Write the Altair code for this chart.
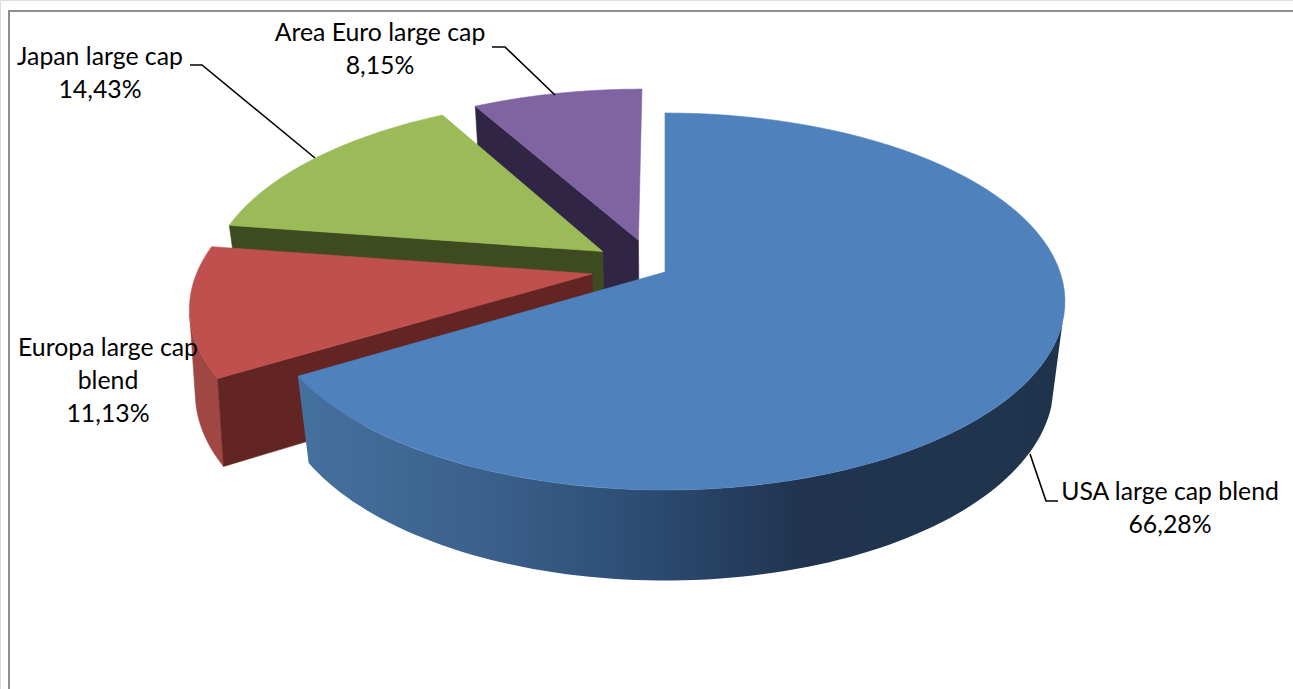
import math
import altair as alt
import pandas as pd

# Portfolio split, clockwise from twelve o'clock
NAMES = ["USA large cap blend", "Europa large cap blend", "Japan large cap", "Area Euro large cap"]
SHARES = [66.28, 11.13, 14.43, 8.15]
TOP_COLORS = ["#4f81bd", "#c0504d", "#9bbb59", "#8064a2"]
WALL_COLORS = [None, "#622523", "#3e4b20", "#302544"]

WIDTH, HEIGHT = 1293, 689

# Perspective camera for the tilted disc
CX, CY = 665.0, 272.0
A, B, C = 395.0, 183.9, 85.0
K, M = 0.1565, 0.028

# Slice pull-out: radial distance plus a small per-slice correction in the disc plane
EXPLODE = 0.19
NUDGE_U = [0.0, 0.002, -0.004, -0.021]
NUDGE_V = [0.0, 0.027, 0.005, -0.006]

# Depth settings for the pulled-out left slice, which sits nearer the frame edge
RED_C, RED_M = 83.0, 0.012

# Angles where the outer walls turn away from the viewer
BLUE_WALL_START = 105
RED_WALL_END = 258


def project(u, v, z=0.0, c=C, m=M):
    w = 1 + K * v + m * z
    return CX + A * u / w, CY + (-B * v + c * z) / w


def rim(theta0, theta1, ou, ov, z=0.0, c=C, m=M, steps=90):
    pts = []
    for i in range(steps + 1):
        t = math.radians(theta0 + (theta1 - theta0) * i / steps)
        pts.append(project(math.sin(t) + ou, math.cos(t) + ov, z, c, m))
    return pts


def polygon(points, fill, stroke=True):
    rows = [{"px": x, "py": y, "i": i} for i, (x, y) in enumerate(points + points[:1])]
    mark = {"fill": fill, "strokeWidth": 0.6}
    mark["stroke"] = fill if stroke else "transparent"
    return alt.Chart(pd.DataFrame(rows)).mark_line(**mark).encode(
        x=alt.X("px:Q", scale=X_SCALE, axis=None),
        y=alt.Y("py:Q", scale=Y_SCALE, axis=None),
        order="i:Q",
    )


def path(points, color, width):
    rows = [{"px": x, "py": y, "i": i} for i, (x, y) in enumerate(points)]
    return alt.Chart(pd.DataFrame(rows)).mark_line(color=color, strokeWidth=width).encode(
        x=alt.X("px:Q", scale=X_SCALE, axis=None),
        y=alt.Y("py:Q", scale=Y_SCALE, axis=None),
        order="i:Q",
    )


X_SCALE = alt.Scale(domain=[0, WIDTH], range=[0, WIDTH], nice=False, zero=False)
Y_SCALE = alt.Scale(domain=[0, HEIGHT], range=[0, HEIGHT], nice=False, zero=False)

total = sum(SHARES)
spans = []
start = 0.0
for share in SHARES:
    end = start + share / total * 360
    spans.append((start, end))
    start = end

layers = []

# Chart frame, running off the right and bottom of the page
layers.append(path([(WIDTH, 11), (9, 11), (9, HEIGHT)], "#8e8e8e", 2))

# Exploded slices, far to near
for idx in (3, 2, 1):
    t0, t1 = spans[idx]
    mid = math.radians((t0 + t1) / 2)
    ou = EXPLODE * math.sin(mid) + NUDGE_U[idx]
    ov = EXPLODE * math.cos(mid) + NUDGE_V[idx]
    c, m = (RED_C, RED_M) if idx == 1 else (C, M)
    apex = project(ou, ov)
    apex_low = project(ou, ov, 1, c, m)
    if idx == 1:
        outer = rim(t0, RED_WALL_END, ou, ov)
        outer_low = rim(t0, RED_WALL_END, ou, ov, 1, c, m)
        layers.append(polygon(outer + outer_low[::-1], "#a04643"))
    # Radial cut face on the edge that looks toward the viewer
    edge = math.radians(t0)
    ru, rv = math.sin(edge) + ou, math.cos(edge) + ov
    layers.append(polygon([apex, project(ru, rv), project(ru, rv, 1, c, m), apex_low], WALL_COLORS[idx]))
    layers.append(polygon([apex] + rim(t0, t1, ou, ov), TOP_COLORS[idx], True))

# Large slice: shaded outer wall, then the top face
t0, t1 = spans[0]
wall_gradient = alt.Gradient(
    gradient="linear",
    x1=0, x2=1, y1=0, y2=0,
    stops=[
        alt.GradientStop(color="#45719f", offset=0.0),
        alt.GradientStop(color="#3a5f8a", offset=0.26),
        alt.GradientStop(color="#2c4b72", offset=0.46),
        alt.GradientStop(color="#20344f", offset=0.66),
        alt.GradientStop(color="#1f344c", offset=1.0),
    ],
)
wall_top = rim(BLUE_WALL_START, t1, 0, 0)
wall_low = rim(BLUE_WALL_START, t1, 0, 0, 1)
layers.append(polygon(wall_top + wall_low[::-1], wall_gradient, False))
layers.append(polygon([project(0, 0)] + rim(t0, t1, 0, 0), TOP_COLORS[0]))

# Leader lines
layers.append(path([(190, 65), (202, 65), (315, 158)], "#000000", 1.6))
layers.append(path([(492, 47), (505, 47), (555, 95)], "#000000", 1.6))
layers.append(path([(1058, 501), (1046, 501), (1030, 454)], "#000000", 1.6))

# Data labels, one row per text line
LABEL_CENTERS = [(1170, 500), (108, 356), (100, 65), (380, 41)]
NAME_LINES = [["USA large cap blend"], ["Europa large cap", "blend"], ["Japan large cap"], ["Area Euro large cap"]]
LINE_STEP = 33

label_rows = []
for (cx, base), lines, share in zip(LABEL_CENTERS, NAME_LINES, SHARES):
    texts = lines + [f"{share:.2f}".replace(".", ",") + "%"]
    for n, text in enumerate(texts):
        label_rows.append({"px": cx, "py": base + n * LINE_STEP, "label": text})

layers.append(
    alt.Chart(pd.DataFrame(label_rows))
    .mark_text(font="Lato", fontSize=24.8, color="#000000", align="center", baseline="alphabetic")
    .encode(
        x=alt.X("px:Q", scale=X_SCALE, axis=None),
        y=alt.Y("py:Q", scale=Y_SCALE, axis=None),
        text="label:N",
    )
)

chart = (
    alt.layer(*layers)
    .properties(width=WIDTH, height=HEIGHT, padding=0, autosize=alt.AutoSizeParams(type="none"))
    .configure_view(stroke=None)
    .configure(background="#ffffff")
)

chart.save("out.html", embed_options={"renderer": "svg", "actions": False})
